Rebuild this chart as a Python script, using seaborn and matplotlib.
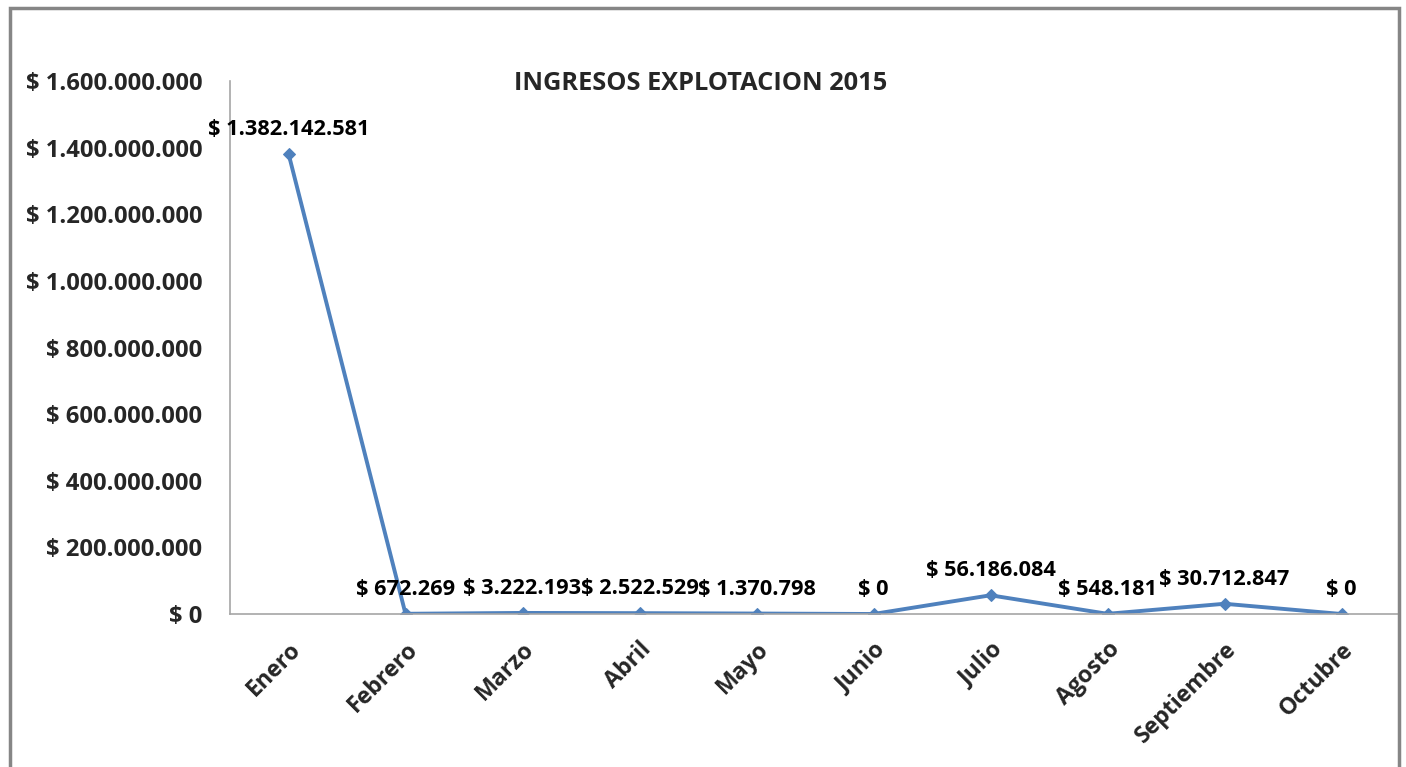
import matplotlib
matplotlib.use("Agg")
import matplotlib.pyplot as plt
import seaborn as sns
import pandas as pd
from matplotlib.patches import Rectangle
from matplotlib.ticker import FuncFormatter, MultipleLocator

months = ["Enero", "Febrero", "Marzo", "Abril", "Mayo", "Junio",
          "Julio", "Agosto", "Septiembre", "Octubre"]
ingresos = [1382142581, 672269, 3222193, 2522529, 1370798, 0,
            56186084, 548181, 30712847, 0]
title = "INGRESOS EXPLOTACION 2015"

sns.set_theme(style="white")
plt.rcParams['font.family'] = ['Open Sans', 'DejaVu Sans']

def peso(v):
    return "$ " + f"{int(round(v)):,}".replace(",", ".")

df = pd.DataFrame({"mes": months, "valor": ingresos})

fig = plt.figure(figsize=(14.06, 7.67), dpi=100)
ax = fig.add_axes([230/1406, 1-614/767, 1170/1406, (614-81)/767])

sns.lineplot(data=df, x="mes", y="valor", ax=ax, color="#4F81BD",
             linewidth=2.8, marker="D", markersize=6.5,
             markeredgecolor="#4F81BD", sort=False)

ax.set_xlim(-0.5, len(months) - 0.5)
ax.set_ylim(0, 1.6e9)
ax.yaxis.set_major_locator(MultipleLocator(2e8))
ax.yaxis.set_major_formatter(FuncFormatter(lambda v, p: peso(v)))
ax.set_xlabel("")
ax.set_ylabel("")

for s in ["top", "right"]:
    ax.spines[s].set_visible(False)
for s in ["left", "bottom"]:
    ax.spines[s].set_color("#A6A6A6")
    ax.spines[s].set_linewidth(1.2)

ax.tick_params(axis="y", length=0, pad=20, labelsize=17.2)
ax.tick_params(axis="x", length=0, pad=17, labelsize=16.7)
for lbl in ax.get_yticklabels():
    lbl.set_fontweight("bold")
for lbl in ax.get_xticklabels():
    lbl.set_fontweight("bold")
    lbl.set_rotation(45)
    lbl.set_ha("right")
    lbl.set_rotation_mode("anchor")

for i, v in enumerate(ingresos):
    ax.annotate(peso(v), (i, v), xytext=(0, 10), textcoords="offset points",
                ha="center", va="bottom", fontsize=15.7, fontweight="bold",
                color="black")

fig.text(701/1406, 1-84/767, title, ha="center", va="center",
         fontsize=18.3, fontweight="bold")

fig.patches.append(Rectangle((10/1406, -0.05), (1399-10)/1406, 1.05 - 8/767,
                             transform=fig.transFigure, fill=False,
                             edgecolor="#868686", linewidth=2.5))

fig.savefig("out.png", dpi=100)
